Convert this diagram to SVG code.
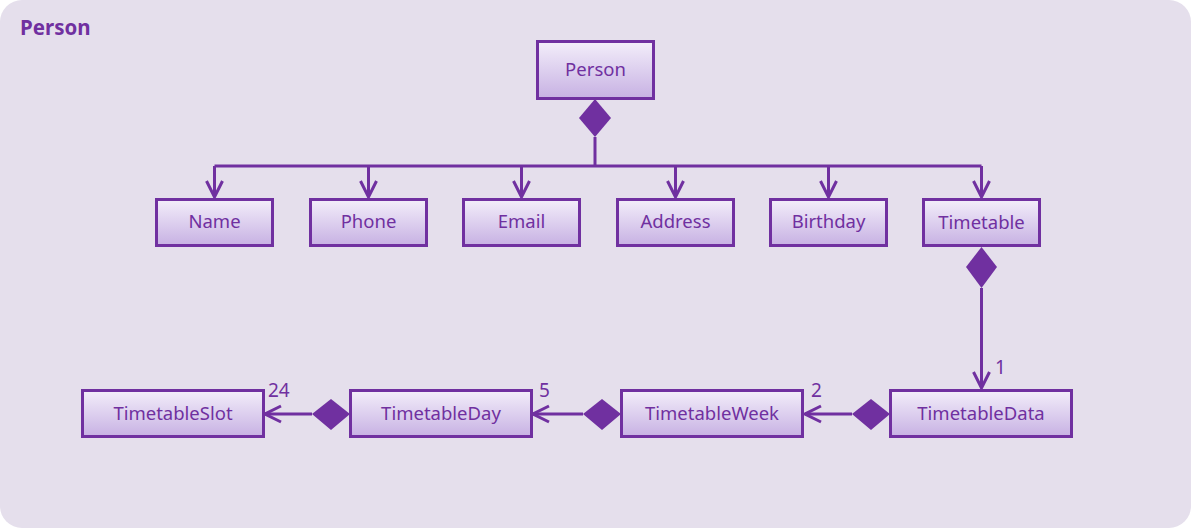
<svg xmlns="http://www.w3.org/2000/svg" width="1191" height="528" viewBox="0 0 1191 528">
<defs>
<linearGradient id="g" x1="0" y1="0" x2="0" y2="1">
<stop offset="0" stop-color="#F3EEFA"/>
<stop offset="1" stop-color="#C7B1E3"/>
</linearGradient>
<marker id="arr" viewBox="0 0 20 20" refX="18" refY="10" markerWidth="20" markerHeight="20" markerUnits="userSpaceOnUse" orient="auto">
<path d="M2,2 L18,10 L2,18" fill="none" stroke="#7030A0" stroke-width="3"/>
</marker>
</defs>
<style>
.box{fill:url(#g);stroke:#7030A0;stroke-width:3}
.lbl{font-family:"Noto Sans","Open Sans",sans-serif;font-size:18.5px;fill:#7030A0;text-anchor:middle}
.num{font-family:"Noto Sans","Open Sans",sans-serif;font-size:19px;fill:#7030A0}
.ln{fill:none;stroke:#7030A0;stroke-width:3}
.dia{fill:#7030A0}
</style>
<rect x="0" y="0" width="1191" height="528" rx="22" fill="#E5DFEC"/>
<text x="20" y="35" font-family="'Noto Sans','Open Sans',sans-serif" font-size="20.5" font-weight="bold" fill="#7030A0">Person</text>
<g id="connectors">
<path class="ln" d="M595,137 V166"/>
<path class="ln" d="M214.5,166 H981.5"/>
<path class="ln" d="M214.5,166 V197" marker-end="url(#arr)"/>
<path class="ln" d="M368.5,166 V197" marker-end="url(#arr)"/>
<path class="ln" d="M521.5,166 V197" marker-end="url(#arr)"/>
<path class="ln" d="M675.5,166 V197" marker-end="url(#arr)"/>
<path class="ln" d="M828.5,166 V197" marker-end="url(#arr)"/>
<path class="ln" d="M981.5,166 V197" marker-end="url(#arr)"/>
<polygon class="dia" points="595,99 611,118 595,137 579,118"/>
<polygon class="dia" points="981.5,247 997,267 981.5,288 966,267"/>
<path class="ln" d="M981.5,288 V388" marker-end="url(#arr)"/>
<text class="num" x="995" y="374">1</text>
<polygon class="dia" points="890,414 871,399 852,414 871,430"/>
<path class="ln" d="M852,414 H805" marker-end="url(#arr)"/>
<text class="num" x="811" y="397">2</text>
<polygon class="dia" points="621,414 602,399 583,414 602,430"/>
<path class="ln" d="M583,414 H533" marker-end="url(#arr)"/>
<text class="num" x="539" y="397">5</text>
<polygon class="dia" points="350,414 331,399 312,414 331,430"/>
<path class="ln" d="M312,414 H265" marker-end="url(#arr)"/>
<text class="num" x="268" y="397">24</text>
</g>
<g id="person"><rect class="box" x="537.5" y="41.5" width="116" height="57"/><text class="lbl" x="595.5" y="76">Person</text></g>
<g id="name"><rect class="box" x="156.5" y="199.5" width="116" height="46"/><text class="lbl" x="214.5" y="228">Name</text></g>
<g id="phone"><rect class="box" x="310.5" y="199.5" width="116" height="46"/><text class="lbl" x="368.5" y="228">Phone</text></g>
<g id="email"><rect class="box" x="463.5" y="199.5" width="116" height="46"/><text class="lbl" x="521.5" y="228">Email</text></g>
<g id="address"><rect class="box" x="617.5" y="199.5" width="116" height="46"/><text class="lbl" x="675.5" y="228">Address</text></g>
<g id="birthday"><rect class="box" x="770.5" y="199.5" width="116" height="46"/><text class="lbl" x="828.5" y="228">Birthday</text></g>
<g id="timetable"><rect class="box" x="923.5" y="199.5" width="116" height="46"/><text class="lbl" x="981.5" y="229" font-size="17">Timetable</text></g>
<g id="timetabledata"><rect class="box" x="890.5" y="390.5" width="181" height="46"/><text class="lbl" x="981" y="420">TimetableData</text></g>
<g id="timetableweek"><rect class="box" x="621.5" y="390.5" width="181" height="46"/><text class="lbl" x="712" y="420">TimetableWeek</text></g>
<g id="timetableday"><rect class="box" x="350.5" y="390.5" width="181" height="46"/><text class="lbl" x="441" y="420">TimetableDay</text></g>
<g id="timetableslot"><rect class="box" x="82.5" y="390.5" width="181" height="46"/><text class="lbl" x="173" y="420">TimetableSlot</text></g>
</svg>
